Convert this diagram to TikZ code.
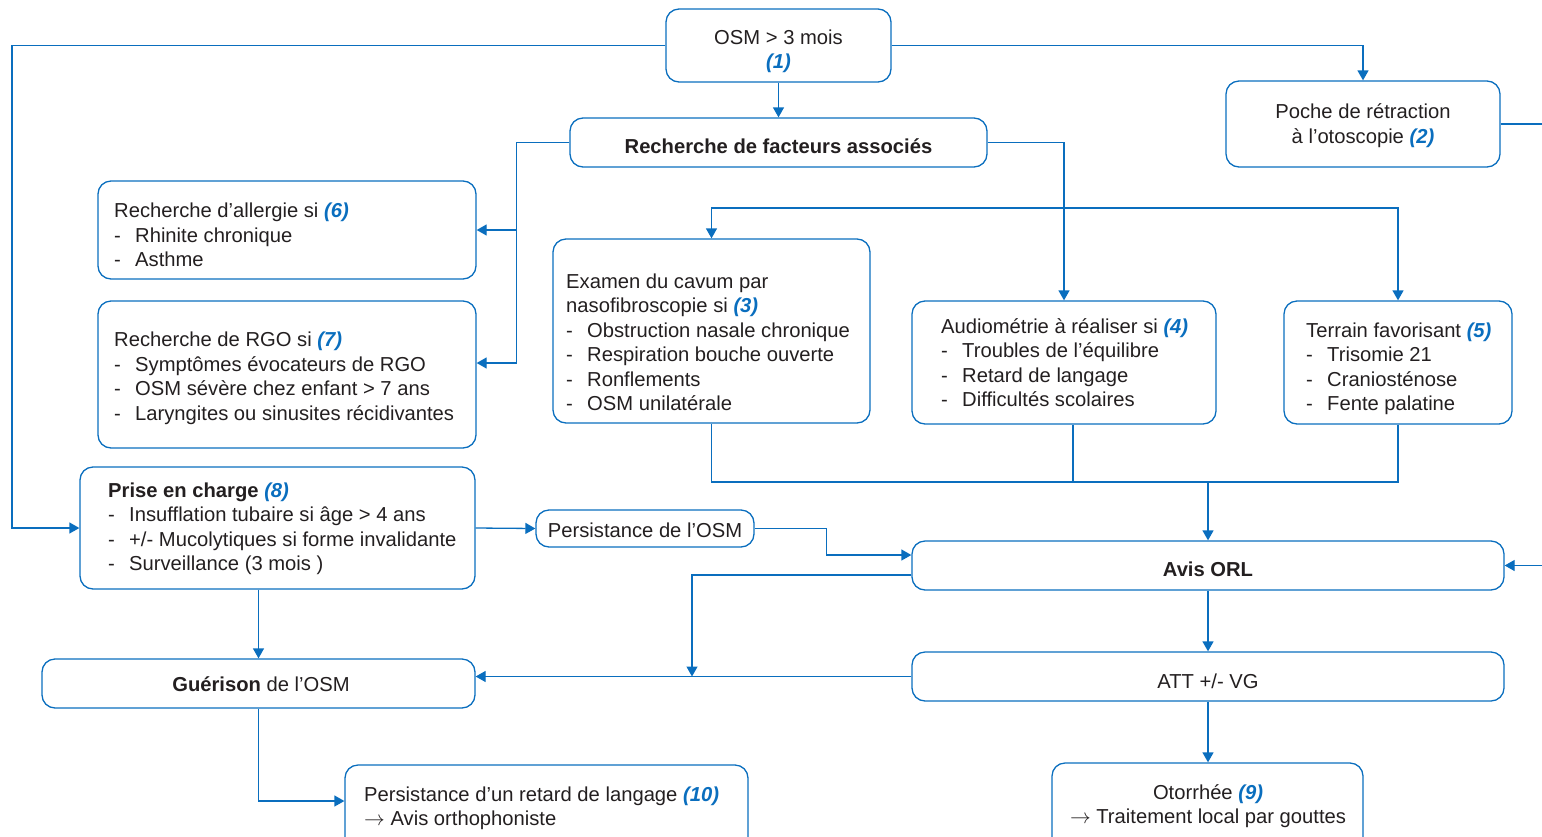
\documentclass[tikz,border=0pt]{standalone}
\usepackage{fontspec}
\setmainfont{Liberation Sans}
\usetikzlibrary{arrows.meta}
\definecolor{blu}{RGB}{10,110,190}
\definecolor{ink}{RGB}{35,31,32}
\newcommand{\nb}[1]{\textcolor{blu}{\textbf{\textit{(#1)}}}}
\newcommand{\li}[1]{\makebox[21pt][l]{-}#1}
\begin{document}
\begin{tikzpicture}[x=1pt,y=-1pt,
  every node/.style={text=ink,font=\fontsize{20.2}{24.5}\selectfont},
  box/.style={draw=blu,line width=1.3pt,rounded corners=13pt,inner sep=0pt,shape=rectangle},
  txt/.style={inner sep=0pt,align=left,anchor=west},
  ctxt/.style={inner sep=0pt,align=center},
  conn/.style={draw=blu,line width=1.3pt},
  arr/.style={conn,-{Triangle[length=10pt,width=11pt]}}]
\useasboundingbox (0,0) rectangle (1542,836);
\clip (0,0) rectangle (1542,836);

% boxes
\node[box,minimum width=225pt,minimum height=73pt] (osm) at (778.5,45.5) {};
\node[ctxt] at (778.5,51.5) {OSM > 3 mois\\\nb{1}};
\node[box,minimum width=417pt,minimum height=49pt] (rech) at (778.5,142.5) {};
\node[ctxt] at (778.5,146.5) {\textbf{Recherche de facteurs associés}};
\node[box,minimum width=274pt,minimum height=86pt] (poche) at (1363,124) {};
\node[ctxt] at (1363,125.5) {Poche de rétraction\\à l’otoscopie \nb{2}};

\node[box,minimum width=378pt,minimum height=98pt] (allerg) at (287,230) {};
\node[txt] at (114,235) {Recherche d’allergie si \nb{6}\\\li{Rhinite chronique}\\\li{Asthme}};
\node[box,minimum width=378pt,minimum height=147pt] (rgo) at (287,374.5) {};
\node[txt] at (114,378.5) {Recherche de RGO si \nb{7}\\\li{Symptômes évocateurs de RGO}\\\li{OSM sévère chez enfant > 7 ans}\\\li{Laryngites ou sinusites récidivantes}};

\node[box,minimum width=317pt,minimum height=184pt] (exam) at (711.5,331) {};
\node[txt] at (566,342.5) {Examen du cavum par\\nasofibroscopie si \nb{3}\\\li{Obstruction nasale chronique}\\\li{Respiration bouche ouverte}\\\li{Ronflements}\\\li{OSM unilatérale}};
\node[box,minimum width=304pt,minimum height=123pt] (audio) at (1064,362.5) {};
\node[txt] at (941,362.5) {Audiométrie à réaliser si \nb{4}\\\li{Troubles de l’équilibre}\\\li{Retard de langage}\\\li{Difficultés scolaires}};
\node[box,minimum width=228pt,minimum height=123pt] (terrain) at (1398,362.5) {};
\node[txt] at (1306,369) {Terrain favorisant \nb{5}\\\li{Trisomie 21}\\\li{Craniosténose}\\\li{Fente palatine}};

\node[box,minimum width=395pt,minimum height=122pt] (prise) at (277.5,528) {};
\node[txt] at (108,529) {\textbf{Prise en charge} \nb{8}\\\li{Insufflation tubaire si âge > 4 ans}\\\li{+/- Mucolytiques si forme invalidante}\\\li{Surveillance (3 mois )}};
\node[box,minimum width=218pt,minimum height=37pt] (pers) at (645,528.5) {};
\node[ctxt] at (645,530) {Persistance de l’OSM};
\node[box,minimum width=592pt,minimum height=49pt] (avis) at (1208,565.5) {};
\node[ctxt] at (1208,569) {\textbf{Avis ORL}};
\node[box,minimum width=433pt,minimum height=49pt] (guer) at (258.5,683.5) {};
\node[ctxt] at (261,684.5) {\textbf{Guérison} de l’OSM};
\node[box,minimum width=592pt,minimum height=49pt] (att) at (1208,676.5) {};
\node[ctxt] at (1208,681) {ATT +/- VG};
\node[box,minimum width=403pt,minimum height=90pt] (ret) at (546.5,810) {};
\node[txt] at (364,808.5) {Persistance d’un retard de langage \nb{10}\\$\rightarrow$ Avis orthophoniste};
\node[box,minimum width=311pt,minimum height=90pt] (oto) at (1207.5,808) {};
\node[ctxt] at (1208,806) {Otorrhée \nb{9}\\$\rightarrow$ Traitement local par gouttes};

% junctions
\coordinate (lc) at (12,45.5);
\coordinate (jt) at (1064,208);
\coordinate (jb) at (1208,482);
\coordinate (jg) at (692,676.5);

% connectors
\draw[arr] (osm.west) -- (lc) |- (prise.west);
\draw[arr] (osm.east) -| (poche.north);
\draw[arr] (osm.south) -- (rech.north);
\draw[arr] (rech.west) -| ([xshift=40pt,yshift=11.5pt]rgo.east) -- ([yshift=11.5pt]rgo.east);
\draw[arr] ([xshift=40pt]allerg.east) -- (allerg.east);
\draw[arr] (rech.east) -| (audio.north);
\draw[arr] (jt) -| (exam.north);
\draw[arr] (jt) -| (terrain.north);
\draw[conn] (exam.south) |- (jb);
\draw[conn] (terrain.south) |- (jb);
\draw[conn] ([xshift=9pt]audio.south) -- ([xshift=9pt]audio.south |- jb);
\draw[arr] (jb) -- (avis.north);
\draw[arr] (prise.east) -- (pers.west);
\draw[arr] (pers.east) -| ([xshift=-85pt,yshift=10.5pt]avis.west) -- ([yshift=10.5pt]avis.west);
\draw[arr] ([yshift=-9.5pt]avis.west) -| (jg);
\draw[arr] (att.west) -- (guer.east |- att.west);
\draw[arr] (avis.south) -- (att.north);
\draw[arr] (att.south) -- (oto.north -| att.south);
\draw[arr] (prise.south -| guer.north) -- (guer.north);
\draw[arr] (guer.south) |- ([yshift=9pt]ret.west);
\draw[arr] (poche.east) -| ([xshift=60pt]avis.east) -- (avis.east);
\end{tikzpicture}
\end{document}
